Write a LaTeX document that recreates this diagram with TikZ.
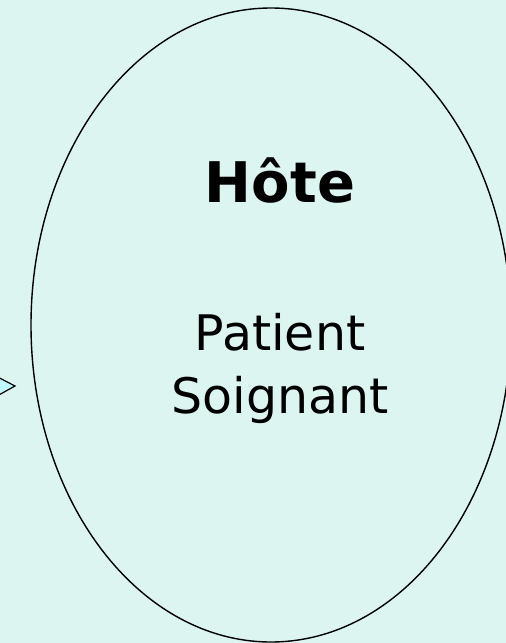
\documentclass[tikz,border=0pt]{standalone}
\usepackage{fontspec}
\usetikzlibrary{shapes.geometric}
\setmainfont{DejaVu Sans}
\definecolor{bgc}{HTML}{DCF5F1}
\definecolor{tipc}{HTML}{C0FAFF}
\begin{document}
\begin{tikzpicture}[x=1pt,y=-1pt,
  outline/.style={draw=black,line width=1.4pt},
  titletext/.style={font=\fontsize{56}{60}\selectfont\bfseries,anchor=base},
  bodytext/.style={font=\fontsize{49}{63}\selectfont,anchor=base}]
\fill[bgc] (0,0) rectangle (506,643);
\useasboundingbox (0,0) rectangle (506,643);
\clip (0,0) rectangle (506,643);
\node[outline,ellipse,minimum width=480pt,minimum height=634pt,inner sep=0pt] (host) at (271,325) {};
\node[titletext] (title) at (280,202) {Hôte};
\node[bodytext] (patient) at (280,350) {Patient};
\node[bodytext] (soignant) at (280,413) {Soignant};
\coordinate (tip) at (15,386);
\draw[outline,line width=1.2pt,fill=tipc] (-12,372) -- (tip) -- (-12,401);
\end{tikzpicture}
\end{document}
